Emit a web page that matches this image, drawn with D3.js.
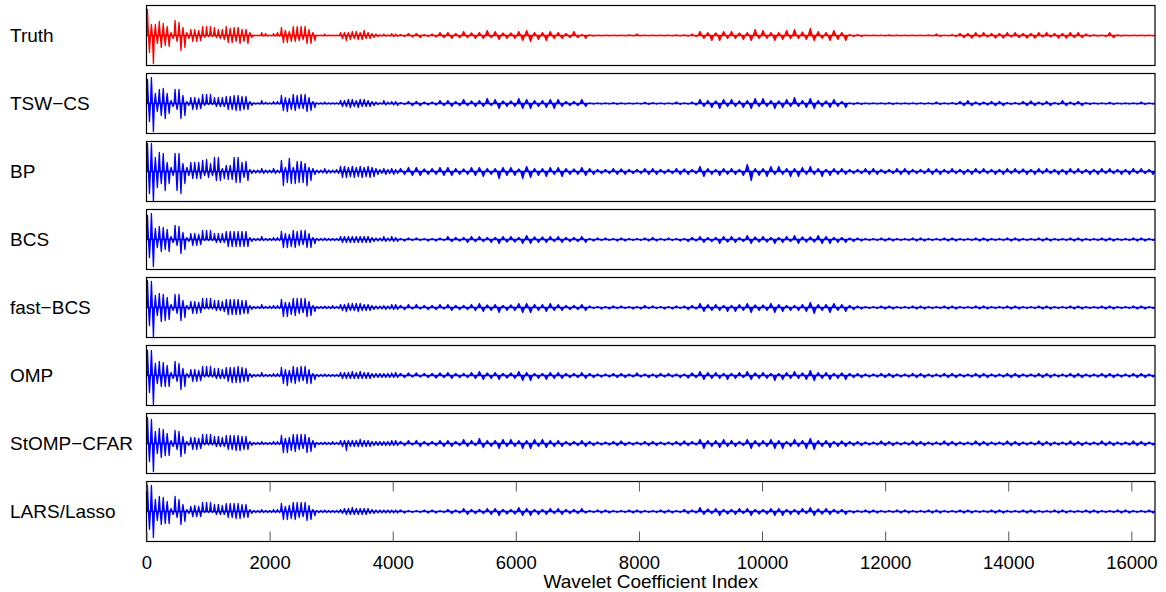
<!DOCTYPE html>
<html>
<head>
<meta charset="utf-8">
<script src="https://cdn.jsdelivr.net/npm/d3@7/dist/d3.min.js"></script>
<style>
  html, body { margin: 0; padding: 0; background: #fff; }
  svg { display: block; }
  text { font-family: "Liberation Sans", Arial, Helvetica, sans-serif; fill: #000; }
</style>
</head>
<body>
<svg id="chart" width="1166" height="592"></svg>
<script>
// ---------------- DATA ----------------
const nCoeffs = 16384;
// Min/max bins: 64 fine bins of 64 coefficients (0..4096), then 96 bins of 128 (4096..16384)
const fineBinCount = 64, fineBinWidth = 64;
const coarseBinCount = 96, coarseBinWidth = 128;

const methods = ["Truth", "TSW\u2212CS", "BP", "BCS", "fast\u2212BCS", "OMP", "StOMP\u2212CFAR", "LARS/Lasso"];
const xTicks = [0, 2000, 4000, 6000, 8000, 10000, 12000, 14000, 16000];
const xLabel = "Wavelet Coefficient Index";

// Per-bin max (Hi) and min (Lo) coefficient values, amplitude units (panel full scale = ±30)
// A = fine bins (0..4096, 16 per row), B = coarse bins (4096..16384, 12 per row)
const truthHiA = [26,11,11,14,12,9,3,15,13,8,3,6,6,5,9,9,
  9,8,6,6,9,7,8,8,6,6,3,0.4,0.4,3,2,0.4,
  2,3,8,5,4,9,9,9,9,6,3,0.4,0.4,1.5,0.4,0.4,
  0.4,3,3,3,4,4,3,5,3,2,1.5,0.6,1.5,0.6,2,1.5];
const truthLoA = [-17,-28,-8,-12,-10,-11,-3,-6,-15,-12,-3,-6,-6,-5,-2,-1,
  -1,-2,-3,-4,-7,-7,-6,-8,-6,-8,-2,-0.4,-0.4,-0.6,-0.6,-0.4,
  -0.6,-0.6,-7,-7,-6,-6,-5,-4,-8,-8,-5,-0.4,-0.4,-0.4,-0.4,-0.4,
  -0.4,-3,-5,-4,-3,-4,-4,-3,-3,-2,-1,-0.6,-0.6,-0.6,-1,-1];
const truthHiB = [1,2, 2,1, 1.5,3, 3,2, 4,2.5, 3,5,
  4,2.5, 2.5,4, 5,3, 3,4, 3,2, 4,1,
  0.5,0.4, 0.4,0.4, 0.4,0.5, 1.5,0.4, 0.4,0.4, 0.4,0.5,
  0.5,1.5, 4,3, 2.5,4, 4,2.5, 3,6, 5,3,
  3,5, 6,3.5, 7,4, 3,5, 3,1, 1,0.4,
  0.4,0.4, 0.5,0.4, 0.4,0.4, 0.4,0.5, 1.5,0.4, 1,2,
  2,3, 3,2, 2,3, 3,2, 2,3, 3,2,
  2,3, 3,1.5, 0.5,0.4, 3,0.5, 0.4,0.4, 0.4,0.4];
const truthLoB = [-1,-1.5, -2,-1, -1.5,-2, -3,-2, -2,-3, -3,-2,
  -4,-3, -3,-5, -6,-4, -5,-3, -3,-2, -2,-3,
  -0.5,-0.4, -0.4,-0.4, -0.4,-0.4, -0.4,-0.4, -0.4,-0.4, -0.4,-0.4,
  -0.5,-1, -3,-5, -5,-3, -3,-4, -5,-3, -3,-5,
  -4,-3, -3,-4, -5,-3, -5,-4, -5,-1, -1,-0.4,
  -0.4,-0.4, -0.4,-0.4, -0.4,-0.4, -0.4,-0.4, -1,-0.4, -1,-2,
  -2.5,-1.5, -1.5,-2.5, -2.5,-1.5, -2,-2.5, -2.5,-1.5, -1.5,-2.5,
  -2.5,-2, -2,-1, -0.5,-1, -2,-0.5, -0.4,-0.4, -0.4,-0.4];

const tswHiA = [24,26,10,14,15,10,3,14,14,8,2,6,6,5,9,9,
  9,6,6,6,7,7,8,8,7,7,2,0.7,0.7,3,1.2,0.7,
  2,2,8,6,5,9,8,9,9,6,2,0.7,0.7,1.5,0.7,0.7,
  0.7,3,3,4,4,3,4,4,3,2,1.5,0.7,3,1.5,2,2];
const tswLoA = [-18,-28,-8,-12,-15,-10,-3,-6,-15,-12,-2,-6,-6,-5,-2,-1,
  -1,-3,-3,-3,-6,-6,-7,-7,-6,-6,-2,-0.7,-0.7,-0.7,-0.7,-0.7,
  -0.7,-0.7,-7,-8,-6,-7,-5,-5,-8,-7,-4,-0.7,-0.7,-0.7,-0.7,-0.7,
  -0.7,-3,-3,-4,-3,-4,-3,-3,-3,-2,-1,-0.7,-1.5,-0.7,-1.5,-2];
const tswHiB = [1,2, 2,1.5, 1.5,3, 3,2, 4,2.5, 3,5,
  4,2.5, 2.5,5, 4,3, 3,4, 4,2, 2,4,
  0.7,0.6, 0.6,0.8, 0.7,0.6, 0.6,1.2, 0.8,0.6, 0.6,1.5,
  0.7,1.5, 4,3, 2.5,4, 4,2.5, 3,5, 5,3,
  2.5,4, 6,3, 5,3, 2.5,4, 2,0.7, 1,0.6,
  0.6,0.7, 0.8,0.6, 0.6,0.7, 0.7,0.6, 1.5,0.7, 1,2,
  3,1.5, 1.5,2, 2,1, 1,2, 2.5,1.5, 2,1,
  3,1.5, 2,1, 0.7,0.6, 1.2,0.6, 0.6,0.7, 1.5,0.6];
const tswLoB = [-1,-2, -2,-1.5, -1.5,-2, -3,-2, -2,-3, -3,-2,
  -5,-3, -3,-5, -5,-3, -4,-5, -3,-2, -2,-3,
  -0.7,-0.6, -0.6,-0.8, -0.7,-0.6, -0.6,-0.8, -0.7,-0.6, -0.6,-0.8,
  -0.7,-1.5, -3,-4, -5,-3, -3,-4, -5,-3, -3,-5,
  -4,-3, -3,-4, -5,-3, -4,-3, -4,-1, -1,-0.6,
  -0.6,-0.7, -0.8,-0.6, -0.6,-0.7, -0.7,-0.6, -1,-0.7, -1,-2,
  -2,-1.5, -1.5,-2, -2,-1, -1,-2, -2,-1.5, -2,-1,
  -2,-1.5, -2,-1, -0.7,-0.6, -1,-0.6, -0.6,-0.7, -1,-0.6];

const bpHiA = [28,28,14,19,18,9,4,18,18,8,4,9,9,9,11,12,
  8,14,14,3,6,6,14,14,9,10,2,1.5,1.5,3,1.5,1.5,
  3,1.5,11,4,13,4,10,10,8,4,3,1.5,1.5,3,1.5,1.5,
  2,5,5,4,5,4,5,4,5,4,3,2,3,2,3,2];
const bpLoA = [-22,-30,-16,-12,-19,-12,-4,-19,-22,-12,-4,-7,-7,-7,-4,-6,
  -4,-9,-9,-7,-8,-8,-11,-11,-6,-9,-2,-1.5,-1.5,-2,-1.5,-1.5,
  -2,-1.5,-14,-11,-12,-12,-11,-11,-14,-9,-3,-1.5,-1.5,-2,-1.5,-1.5,
  -2,-6,-6,-5,-6,-5,-6,-5,-6,-5,-3,-2,-3,-2,-3,-2];
const bpHiB = [3,4, 4,2.5, 3,4, 4,3, 2.5,4, 4,3,
  3,4, 4,2.5, 5,3, 3,4, 4,3, 2.5,4,
  3,2, 2,3, 2.5,2, 2,3, 3,2, 2,3,
  2.5,2, 5,3, 2,3, 3,2, 7,3, 3,5,
  5,3, 3,4, 5,3, 2,3, 3,2, 2,3,
  3,2, 2,3, 3,2, 2,3, 2.5,2, 3,2,
  2,3, 3,2, 2,3, 3,2.5, 2,3, 3,2,
  2,3, 3,2, 2,3, 3,2, 2,3, 3,2];
const bpLoB = [-3,-4, -4,-3, -3,-4, -4,-3, -3,-4, -5,-3,
  -7,-4, -4,-7, -6,-4, -5,-3, -5,-3, -3,-4,
  -3,-2, -2,-3, -3,-2, -2,-3, -3,-2, -2,-3,
  -3,-2, -5,-3, -4,-3, -3,-4, -9,-4, -5,-3,
  -3,-5, -5,-3, -3,-5, -4,-3, -3,-2, -2,-3,
  -3,-2, -2,-3, -3,-2, -2,-3, -3,-2, -2,-3,
  -3,-2, -2,-3, -3,-2, -2,-3, -3,-2, -2,-3,
  -3,-2, -2,-3, -3,-2, -2,-3, -3,-2, -2,-3];

const bcsHiA = [24,26,11,13,12,10,3,14,13,7,2,6,6,5,9,9,
  9,6,6,6,8,8,8,8,8,8,2,1,1,3,1,1,
  2,2,8,6,5,9,8,9,9,6,2,1,1,1.5,1,1,
  1,3,3,3,3,3,3,3,3,2,1.5,1.5,3,1.5,3,2];
const bcsLoA = [-18,-27,-8,-12,-10,-12,-3,-6,-14,-10,-2,-6,-6,-5,-1,-1,
  -1,-3,-3,-3,-7,-7,-7,-7,-7,-7,-2,-1,-1,-1,-1,-1,
  -1,-1,-8,-8,-7,-8,-6,-5,-8,-8,-4,-1,-1,-1,-1,-1,
  -1,-3,-3,-3,-3,-3,-3,-3,-3,-2,-1.5,-1.5,-2,-1.5,-2,-2];
const bcsHiB = [1,1.5, 1.5,1, 1,1.5, 3,2, 2,3, 3,2,
  2,3, 3,2, 4,2.5, 2.5,3, 3,2, 2,3,
  1,1.5, 1.5,1, 1.5,1, 1,1.5, 2,1, 1.5,1,
  1,2, 3,2, 2,3, 3,2, 4,2.5, 3,2,
  2,3, 4,2.5, 2.5,4, 3,2, 2,1.5, 1.5,1,
  1,1.5, 1.5,1, 1,1.5, 1.5,1, 1,1.5, 1.5,1,
  1,1.5, 1.5,1, 1,1.5, 1.5,1, 1,1.5, 1.5,1,
  1,1.5, 1.5,1, 1,1.5, 1.5,1, 1,1.5, 1.5,1];
const bcsLoB = [-1.5,-1, -1,-1.5, -1.5,-1, -2,-1.5, -3,-2, -2,-3,
  -4,-2.5, -2.5,-4, -4,-3, -3,-2, -3,-2, -2,-3,
  -1.5,-1, -1,-1.5, -1.5,-1, -1,-1.5, -1.5,-1, -1,-1.5,
  -2,-1.5, -3,-2, -4,-2.5, -3,-2, -4,-2.5, -2.5,-4,
  -3,-2, -4,-2.5, -2.5,-4, -4,-3, -3,-2, -1.5,-1,
  -1,-1.5, -1.5,-1, -1,-1.5, -1.5,-1, -1,-1.5, -1.5,-1,
  -1,-1.5, -1.5,-1, -1,-1.5, -1.5,-1, -1,-1.5, -1.5,-1,
  -1,-1.5, -1.5,-1, -1,-1.5, -1.5,-1, -1,-1.5, -1.5,-1];

const fastHiA = [27,26,12,14,13,10,3,13,13,7,2,6,6,5,9,9,
  9,7,7,6,8,8,8,8,7,7,2,1,1,3,1,1.5,
  2,2,8,5,5,9,9,9,9,6,2,1,1,1.5,1,2,
  1,3,3,4,4,4,4,3,3,2,1.5,1.5,2,1.5,3,3];
const fastLoA = [-18,-29,-8,-14,-13,-12,-3,-6,-13,-10,-2,-6,-6,-5,-1.5,-1.5,
  -1.5,-3,-3,-4,-7,-7,-7,-7,-6,-6,-2,-1,-1,-1,-1,-1,
  -1,-1,-9,-9,-7,-8,-6,-5,-9,-8,-4,-1,-1,-1,-1,-1,
  -1,-3,-4,-3,-3,-4,-3,-3,-3,-2,-1.5,-1.5,-2,-1.5,-2,-2];
const fastHiB = [2,3, 3,2, 2,3, 3,2, 2,3, 4,2.5,
  3,2, 2.5,4, 4,3, 3,4, 3,2, 2,3,
  1.5,1, 1,1.5, 1.5,1, 1,2, 1.5,1, 1,1.5,
  1.5,2, 4,3, 3,2, 2,3, 4,2.5, 2.5,4,
  3,2, 2,3, 5,3, 3,4, 3,2, 1.5,1,
  1,1.5, 1.5,1, 1,1.5, 1.5,1, 1,1.5, 1.5,1,
  1,1.5, 1.5,1, 1,1.5, 1.5,1, 1,1.5, 1.5,1,
  1,1.5, 1.5,1, 1,1.5, 1.5,1, 1,1.5, 1.5,1];
const fastLoB = [-2,-1.5, -1.5,-2, -2,-1.5, -3,-2, -2,-3, -4,-3,
  -5,-3, -3,-5, -5,-3, -4,-3, -3,-2, -2,-3,
  -1,-1.5, -1.5,-1, -1,-1.5, -1.5,-1, -1,-1.5, -1.5,-1,
  -2,-1.5, -4,-3, -3,-4, -4,-3, -5,-3, -3,-5,
  -4,-3, -3,-4, -6,-3, -5,-3, -4,-2, -1.5,-1,
  -1,-1.5, -1.5,-1, -1,-1.5, -1.5,-1, -1,-1.5, -1.5,-1,
  -1,-1.5, -1.5,-1, -1,-1.5, -1.5,-1, -1,-1.5, -1.5,-1,
  -1,-1.5, -1.5,-1, -1,-1.5, -1.5,-1, -1,-1.5, -1.5,-1];

const ompHiA = [25,25,12,14,13,10,3,14,12,7,2,6,6,5,9,9,
  9,7,7,6,8,8,8,9,8,7,2,1,1,3,1,1,
  2,2,8,6,5,9,8,9,9,6,2,1,1,1.5,1,1,
  1,3,3,3,4,3,4,3,3,2,2,2,2,2,2.5,3];
const ompLoA = [-17,-29,-8,-11,-11,-11,-3,-6,-14,-11,-2,-6,-6,-5,-1.5,-1.5,
  -1.5,-3,-3,-3,-6,-7,-7,-7,-6,-6,-2,-1,-1,-1,-1,-1,
  -1,-1,-8,-10,-7,-8,-6,-5,-8,-8,-4,-1,-1,-1,-1,-1,
  -1,-3,-3,-3,-3,-3,-3,-3,-3,-2,-2,-2,-2,-2,-2,-2];
const ompHiB = [2,2.5, 2.5,2, 2,2.5, 3,2, 2,3, 4,2.5,
  3,2, 2.5,4, 3,2, 2,3, 3,2, 2,3,
  2,1.5, 1.5,2, 2,1.5, 2.5,1.5, 1.5,2, 2,1.5,
  1.5,2.5, 4,3, 3,2, 2,3, 4,2.5, 3,2,
  2,3, 4,2.5, 5,3, 3,2, 2.5,2, 2,1.5,
  1.5,2, 2,1.5, 1.5,2, 2,1.5, 1.5,2, 2,1.5,
  1.5,2, 2,1.5, 1.5,2, 2,1.5, 1.5,2, 2,1.5,
  1.5,2, 2,1.5, 1.5,2, 2,1.5, 1.5,2, 2,1.5];
const ompLoB = [-2,-1.5, -1.5,-2, -2.5,-2, -3,-2, -2,-3, -4,-3,
  -4,-2.5, -3,-5, -5,-3, -4,-3, -3,-2, -2,-3,
  -2,-1.5, -1.5,-2, -2,-1.5, -1.5,-2, -2,-1.5, -1.5,-2,
  -2.5,-2, -4,-3, -3,-4, -3,-2, -4,-3, -3,-5,
  -4,-3, -3,-4, -5,-3, -4,-3, -4,-2, -2,-1.5,
  -1.5,-2, -2,-1.5, -1.5,-2, -2,-1.5, -1.5,-2, -2,-1.5,
  -1.5,-2, -2,-1.5, -1.5,-2, -2,-1.5, -1.5,-2, -2,-1.5,
  -1.5,-2, -2,-1.5, -1.5,-2, -2,-1.5, -1.5,-2, -2,-1.5];

const stompHiA = [26,24,12,15,14,10,3,13,12,7,2,6,6,5,9,9,
  9,7,7,6,8,8,8,8,7,7,2,1,1,2,1,1,
  2,2,8,5,6,9,9,9,9,6,3,1,1,1.5,1,2,
  1,3,3,3,3,3,4,3,3,2,2,2,2,2,3,3];
const stompLoA = [-18,-28,-10,-14,-12,-12,-3,-6,-13,-10,-2,-6,-6,-5,-1.5,-1.5,
  -1.5,-3,-3,-3,-6,-6,-7,-7,-6,-6,-2,-1,-1,-1,-1,-1,
  -1,-1,-9,-9,-7,-8,-6,-5,-9,-8,-4,-1,-1,-1,-1,-1,
  -1,-3,-7,-3,-3,-3,-3,-3,-3,-2,-2,-2,-2,-2,-2,-2];
const stompHiB = [2,3, 3,2, 2,3, 3,2, 4,3, 5,3,
  3,4, 4,3, 3,4, 4,3, 3,2, 2,3,
  2,1.5, 1.5,2, 2.5,1.5, 1.5,2, 2,1.5, 1.5,2,
  2.5,2, 4,3, 3,4, 3,2, 4,3, 3,4,
  3,2, 4,3, 5,3, 3,2, 2.5,2, 2,1.5,
  1.5,2.5, 2,1.5, 1.5,2.5, 2,1.5, 1.5,2.5, 2,1.5,
  1.5,2.5, 2,1.5, 1.5,2.5, 2,1.5, 1.5,2.5, 2,1.5,
  1.5,2.5, 2,1.5, 1.5,2.5, 2,1.5, 1.5,2.5, 2,1.5];
const stompLoB = [-2,-1.5, -3,-2, -2,-3, -3,-2, -3,-2, -4,-3,
  -5,-3, -3,-5, -5,-3, -4,-3, -3,-2, -2,-3,
  -2,-1.5, -1.5,-2, -2,-1.5, -1.5,-2, -2,-1.5, -1.5,-2,
  -2,-1.5, -5,-3, -4,-3, -3,-2, -5,-3, -3,-5,
  -5,-3, -3,-5, -6,-3, -4,-3, -3,-2, -2,-1.5,
  -1.5,-2, -2,-1.5, -1.5,-2, -2,-1.5, -1.5,-2, -2,-1.5,
  -1.5,-2, -2,-1.5, -1.5,-2, -2,-1.5, -1.5,-2, -2,-1.5,
  -1.5,-2, -2,-1.5, -1.5,-2, -2,-1.5, -1.5,-2, -2,-1.5];

const larsHiA = [26,26,12,15,14,10,3,15,12,7,2,5,6,5,9,9,
  9,7,7,6,8,8,8,8,7,7,2,1,1,2,1,1,
  2,2,8,5,6,9,9,9,9,6,2,1,1,1.5,1,1,
  1,2,3,3,4,3,3,3,3,2,1.5,1.5,1.5,1.5,1.5,1.5];
const larsLoA = [-18,-26,-9,-13,-12,-12,-3,-6,-13,-10,-2,-5,-5,-5,-1,-1,
  -1,-3,-3,-3,-6,-6,-7,-7,-6,-6,-2,-1,-1,-1,-1,-1,
  -1,-1,-8,-8,-7,-8,-6,-5,-9,-8,-4,-1,-1,-1,-1,-1,
  -1,-2,-3,-3,-3,-3,-3,-3,-2,-2,-1.5,-1.5,-1.5,-1.5,-1.5,-1.5];
const larsHiB = [1.5,1, 1,1.5, 1.5,1, 2,1.5, 3,2, 2,3,
  3,2, 2,4, 3,2, 2,3, 3,2, 2,3,
  1,1.5, 1.5,1, 1,1.5, 1.5,1, 1,1.5, 1.5,1,
  2,1.5, 4,2.5, 3,2, 2,3, 3,2, 2,3,
  3,2, 2,3, 4,2.5, 3,2, 2,1, 1,1.5,
  1.5,1, 1,1.5, 1.5,1, 1,1.5, 1.5,1, 1,1.5,
  1.5,1, 1,1.5, 1.5,1, 1,1.5, 1.5,1, 1,1.5,
  1.5,1, 1,1.5, 1.5,1, 1,1.5, 1.5,1, 1,1.5];
const larsLoB = [-1.5,-1, -1,-1.5, -1.5,-1, -2,-1.5, -3,-2, -2,-3,
  -4,-2.5, -2.5,-4, -4,-3, -3,-2, -3,-2, -2,-1.5,
  -1,-1.5, -1.5,-1, -1,-1.5, -1.5,-1, -1,-1.5, -1.5,-1,
  -2,-1.5, -3,-2, -4,-2.5, -3,-2, -4,-2.5, -2.5,-4,
  -4,-3, -3,-2, -4,-2.5, -3,-2, -3,-1.5, -1,-1.5,
  -1.5,-1, -1,-1.5, -1.5,-1, -1,-1.5, -1.5,-1, -1,-1.5,
  -1.5,-1, -1,-1.5, -1.5,-1, -1,-1.5, -1.5,-1, -1,-1.5,
  -1.5,-1, -1,-1.5, -1.5,-1, -1,-1.5, -1.5,-1, -1,-1.5];

const seriesHi = [truthHiA.concat(truthHiB), tswHiA.concat(tswHiB), bpHiA.concat(bpHiB), bcsHiA.concat(bcsHiB),
                  fastHiA.concat(fastHiB), ompHiA.concat(ompHiB), stompHiA.concat(stompHiB), larsHiA.concat(larsHiB)];
const seriesLo = [truthLoA.concat(truthLoB), tswLoA.concat(tswLoB), bpLoA.concat(bpLoB), bcsLoA.concat(bcsLoB),
                  fastLoA.concat(fastLoB), ompLoA.concat(ompLoB), stompLoA.concat(stompLoB), larsLoA.concat(larsLoB)];
const seriesColor = ["#ff0000", "#0000ff", "#0000ff", "#0000ff", "#0000ff", "#0000ff", "#0000ff", "#0000ff"];

// ---------------- LAYOUT ----------------
const plotLeft = 146.5, plotRight = 1155;
const panelTop0 = 5.5, panelPitch = 68, panelH = 60;
const labelFont = 19, tickFont = 18.5;

const svg = d3.select("#chart");
const x = d3.scaleLinear().domain([0, nCoeffs]).range([plotLeft, plotRight]);

// bin edges in coefficient index
const binEdges = [];
for (let i = 0; i <= fineBinCount; i++) binEdges.push(i * fineBinWidth);
for (let j = 1; j <= coarseBinCount; j++) binEdges.push(fineBinCount * fineBinWidth + j * coarseBinWidth);

methods.forEach((name, k) => {
  const top = panelTop0 + k * panelPitch;
  const y = d3.scaleLinear().domain([-30, 30]).range([top + panelH, top]);
  const g = svg.append("g");

  const clipId = "clip" + k;
  svg.append("clipPath").attr("id", clipId)
    .append("rect").attr("x", plotLeft).attr("y", top).attr("width", plotRight - plotLeft).attr("height", panelH);

  const hi = seriesHi[k], lo = seriesLo[k];
  const n = Math.min(hi.length, lo.length, binEdges.length - 1);
  // each bin: a positive excursion to its max in the first half, a negative one to its min in the second half
  const pts = [{ c: binEdges[0], hi: 0, lo: 0 }];
  for (let i = 0; i < n; i++) {
    const a = binEdges[i], w = binEdges[i + 1] - a;
    pts.push({ c: a + w * 0.25, hi: hi[i], lo: 0 });
    pts.push({ c: a + w * 0.5, hi: 0, lo: 0 });
    pts.push({ c: a + w * 0.75, hi: 0, lo: lo[i] });
    pts.push({ c: a + w, hi: 0, lo: 0 });
  }
  const area = d3.area().x(d => x(d.c)).y0(d => y(d.lo)).y1(d => y(d.hi));

  g.append("path")
    .datum(pts)
    .attr("clip-path", `url(#${clipId})`)
    .attr("d", area)
    .attr("fill", seriesColor[k])
    .attr("stroke", seriesColor[k])
    .attr("stroke-width", 1.3)
    .attr("stroke-linejoin", "round");

  g.append("rect")
    .attr("x", plotLeft).attr("y", top)
    .attr("width", plotRight - plotLeft).attr("height", panelH)
    .attr("fill", "none").attr("stroke", "#000").attr("stroke-width", 1.2);

  g.append("text")
    .attr("x", 10).attr("y", top + panelH / 2 + labelFont * 0.36)
    .attr("font-size", labelFont)
    .text(name);

  if (k === methods.length - 1) {
    const axB = d3.axisBottom(x).tickValues(xTicks).tickSize(-10).tickPadding(14).tickFormat(d3.format("d"));
    const axT = d3.axisTop(x).tickValues(xTicks).tickSize(-10).tickFormat("");
    const gb = svg.append("g").attr("transform", `translate(0,${top + panelH})`).call(axB);
    const gt = svg.append("g").attr("transform", `translate(0,${top})`).call(axT);
    [gb, gt].forEach(a => {
      a.select(".domain").remove();
      a.selectAll(".tick line").attr("stroke", "#555").attr("stroke-width", 1);
    });
    gb.selectAll(".tick text")
      .attr("font-size", tickFont)
      .attr("font-family", '"Liberation Sans", Arial, sans-serif')
      .attr("fill", "#000");
    svg.append("text")
      .attr("x", (plotLeft + plotRight) / 2)
      .attr("y", top + panelH + 46)
      .attr("text-anchor", "middle")
      .attr("font-size", labelFont)
      .text(xLabel);
  }
});
</script>
</body>
</html>
